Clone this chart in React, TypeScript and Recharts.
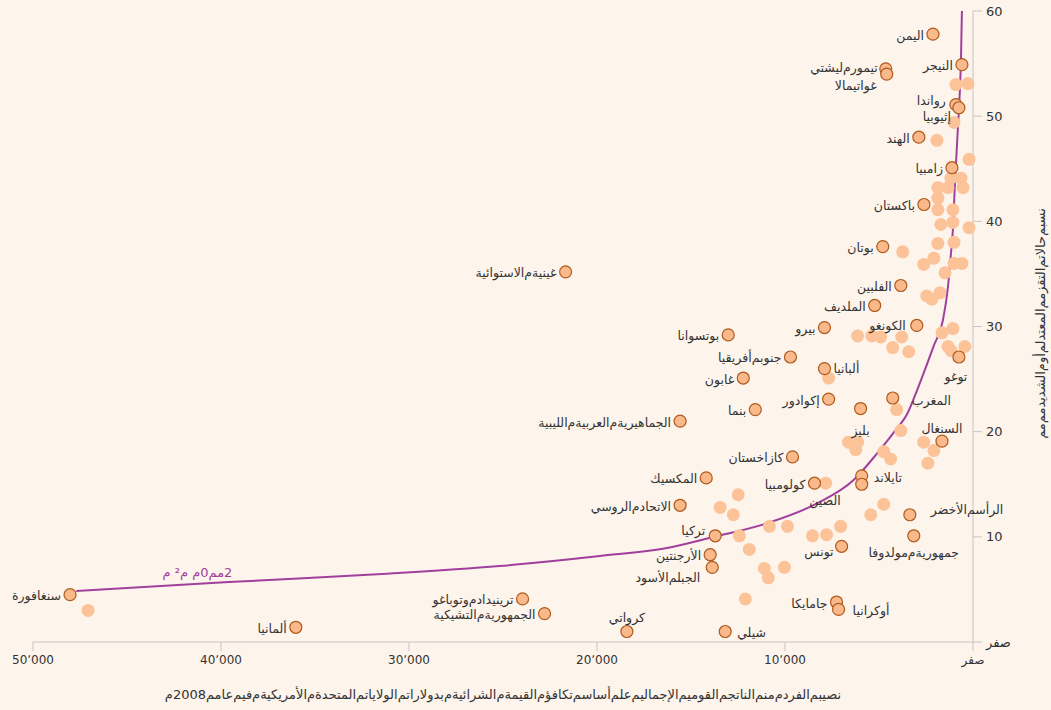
import { ScatterChart, Scatter, XAxis, YAxis, ReferenceDot } from 'recharts'

document.body.style.margin = '0'
document.body.style.background = '#fdf4ec'

// labelled countries: GNI per capita (PPP, 2008 US$) vs. stunting rate (%)
const countryNames = [
  'اليمن', 'النيجر', 'تيمور ليشتي', 'غواتيمالا', 'رواندا', 'إثيوبيا', 'الهند', 'زامبيا',
  'باكستان', 'بوتان', 'الفلبين', 'الملديف', 'بيرو', 'الكونغو', 'بوتسوانا', 'جنوب أفريقيا',
  'ألبانيا', 'توغو', 'غابون', 'إكوادور', 'بنما', 'بليز', 'المغرب', 'الجماهيرية العربية الليبية',
  'السنغال', 'كازاخستان', 'المكسيك', 'كولومبيا', 'تايلاند', 'الصين', 'الاتحاد الروسي',
  'الرأس الأخضر', 'تركيا', 'جمهورية مولدوفا', 'الأرجنتين', 'الجبل الأسود', 'تونس', 'جامايكا',
  'أوكرانيا', 'سنغافورة', 'ترينيداد وتوباغو', 'الجمهورية التشيكية', 'ألمانيا', 'كرواتي', 'شيلي',
  'غينية الاستوائية',
]
const countryGni = [
  2130, 590, 4640, 4590, 910, 750, 2880, 1120,
  2610, 4800, 3840, 5230, 7900, 2990, 13020, 9710,
  7900, 750, 12220, 7680, 11580, 5980, 4270, 15580,
  1650, 9600, 14190, 8430, 5920, 5920, 15580,
  3360, 13710, 3150, 13980, 13870, 6990, 7260,
  7150, 48030, 23960, 22790, 36020, 18410, 13180,
  21670,
]
const countryStunting = [
  57.8, 54.9, 54.5, 54.0, 51.1, 50.8, 48.0, 45.1,
  41.6, 37.6, 33.9, 32.0, 29.9, 30.1, 29.2, 27.1,
  26.0, 27.1, 25.1, 23.1, 22.1, 22.2, 23.2, 21.0,
  19.1, 17.6, 15.6, 15.1, 15.8, 15.0, 13.0,
  12.1, 10.1, 10.1, 8.3, 7.1, 9.1, 3.8,
  3.1, 4.5, 4.1, 2.7, 1.4, 1.0, 1.0,
  35.2,
]

// unlabelled countries
const otherGni = [
  910, 270, 1010, 1920, 210, 1170, 640, 530, 1330, 1870, 1870, 1870, 1070, 1070, 1710, 210,
  1870, 1010, 3740, 2620, 2080, 1010, 590, 1490, 2460, 2190, 1760, 6140, 5390, 4910, 3790,
  4270, 3420, 1650, 1070, 1330, 1170, 430, 7680, 4060, 3840, 6620, 6140, 6240, 4750, 4380,
  2620, 2080, 2400, 7840, 4750, 5440, 7040, 7790, 8540, 9870, 10830, 12430, 11900, 12490,
  13450, 12750, 11100, 10890, 10030, 12110, 47070,
]
const otherStunting = [
  53.0, 53.1, 49.4, 47.7, 45.9, 44.1, 44.1, 43.2, 43.2, 43.2, 42.2, 41.1, 41.1, 39.9, 39.7, 39.4,
  37.9, 38.0, 37.1, 35.9, 36.5, 36.0, 36.0, 35.1, 32.9, 32.6, 33.2, 29.1, 29.1, 29.0, 29.0,
  28.0, 27.6, 29.4, 29.8, 28.1, 27.7, 28.1, 25.1, 22.1, 20.1, 19.0, 19.0, 18.3, 18.1, 17.4,
  19.0, 18.2, 17.0, 15.1, 13.1, 12.1, 11.0, 10.2, 10.1, 11.0, 11.0, 10.1, 8.8, 14.0,
  12.8, 12.1, 7.0, 6.1, 7.1, 4.1, 3.0,
]

// fitted trend line
const trendGni = [
  47700, 39600, 31430, 25190, 19850, 16280, 13820, 10940, 8270, 6350, 5070, 4220,
  3470, 2940, 2080, 1600, 1330, 1170, 1070, 960, 800, 690, 640, 590,
]
const trendStunting = [
  4.85, 5.7, 6.46, 7.22, 8.17, 8.94, 9.98, 11.3, 13.2, 15.4, 18.0, 19.9,
  21.8, 24.1, 28.2, 30.6, 33.8, 37.0, 39.2, 43.6, 49.0, 52.8, 55.3, 60,
]

const xTicks = [0, 10000, 20000, 30000, 40000, 50000]
const xTickLabels = ['صفر', '10٬000', '20٬000', '30٬000', '40٬000', '50٬000']
const yTicks = [0, 10, 20, 30, 40, 50, 60]
const yTickLabels = ['صفر', '10', '20', '30', '40', '50', '60']

const xTitle = 'نصيبم الفردم منم الناتجم القوميم الإجماليم علم أساسم تكافؤم القيمةم الشرائيةم بدولاراتم الولاياتم المتحدةم الأمريكيةم فيم عامم 2008م'
const yTitle = 'نسبم حالاتم التقزمم المعتدلم أوم الشديدمم مم'
const trendNote = 'م ²م م0مم2'

const FONT = '"DejaVu Sans", sans-serif'
const TEXT = '#333333'
const AXIS = '#c9c4c0'
const DOT = '#f9b98b'
const DOT_EDGE = '#b05a1c'
const DOT_LIGHT = '#fcc398'
const TREND = '#a0409c'

// the source shows each space as a stray mim glyph, with no gap after it
const garble = (s: string) => s.split(' ').join('م\u200c')
const tight = (s: string) => s.split(' ').join('\u200c')

// label placement: [dx, dy, anchor], default is left of the dot
const LABEL_POS: Record<string, [number, number, 'start' | 'middle' | 'end']> = {
  'توغو': [-3, 20, 'middle'],
  'المغرب': [19, 2, 'start'],
  'السنغال': [0, -13, 'middle'],
  'بليز': [0, 22, 'middle'],
  'تايلاند': [12, 2, 'start'],
  'الصين': [-21, 16, 'end'],
  'الرأس الأخضر': [21, -5, 'start'],
  'جمهورية مولدوفا': [0, 17, 'middle'],
  'تونس': [-8, 5, 'end'],
  'أوكرانيا': [14, 1, 'start'],
  'شيلي': [12, 1, 'start'],
  'كرواتي': [0, -14, 'middle'],
  'ألبانيا': [9, 0, 'start'],
  'غواتيمالا': [-10, 11, 'end'],
  'تيمور ليشتي': [-8, -1, 'end'],
  'رواندا': [-10, -4, 'end'],
  'إثيوبيا': [-8, 9, 'end'],
  'الجبل الأسود': [-12, 10, 'end'],
  'تركيا': [-10, -5, 'end'],
  'الكونغو': [-11, 0, 'end'],
}

const countries = countryNames.map((name, i) => ({ name, x: countryGni[i], y: countryStunting[i] }))
const others = otherGni.map((x, i) => ({ x, y: otherStunting[i] }))
const trend = trendGni.map((x, i) => ({ x, y: trendStunting[i] }))

function CountryDot(props: any) {
  const { cx, cy, payload } = props
  const [dx, dy, anchor] = LABEL_POS[payload.name] ?? [-9, 1, 'end']
  return (
    <g>
      <circle cx={cx} cy={cy} r={6} fill={DOT} stroke={DOT_EDGE} strokeWidth={1.2} />
      <text
        x={cx + dx}
        y={cy + dy}
        textAnchor={anchor}
        dominantBaseline="central"
        fontSize={12.5}
        fontFamily={FONT}
        fill={TEXT}
      >
        {garble(payload.name)}
      </text>
    </g>
  )
}

function OtherDot(props: any) {
  return <circle cx={props.cx} cy={props.cy} r={6.5} fill={DOT_LIGHT} />
}

function TrendNote(props: any) {
  return (
    <text
      x={props.cx}
      y={props.cy}
      textAnchor="middle"
      dominantBaseline="central"
      fontSize={13}
      fontFamily={FONT}
      fill={TREND}
      direction="ltr"
      unicodeBidi="bidi-override"
    >
      {trendNote}
    </text>
  )
}

export default function App() {
  return (
    <div style={{ width: 1051, height: 710, background: '#fdf4ec' }}>
      <ScatterChart width={1051} height={710} margin={{ top: 11, right: 3, bottom: 18, left: 33 }}>
        <XAxis
          type="number"
          dataKey="x"
          domain={[0, 50000]}
          reversed
          ticks={xTicks}
          interval={0}
          tickFormatter={(v: number) => xTickLabels[xTicks.indexOf(v)]}
          tickSize={9}
          tickMargin={4}
          height={50}
          axisLine={{ stroke: AXIS }}
          tickLine={{ stroke: AXIS }}
          tick={{ fill: TEXT, fontSize: 12, fontFamily: FONT }}
          label={({ viewBox }: any) => (
            <text
              x={viewBox.x + viewBox.width / 2}
              y={viewBox.y + 52}
              textAnchor="middle"
              dominantBaseline="central"
              fontSize={13}
              fontFamily={FONT}
              fill={TEXT}
            >
              {tight(xTitle)}
            </text>
          )}
        />
        <YAxis
          type="number"
          dataKey="y"
          orientation="right"
          domain={[0, 60]}
          ticks={yTicks}
          interval={0}
          tickFormatter={(v: number) => yTickLabels[yTicks.indexOf(v)]}
          tickSize={9}
          tickMargin={4}
          width={75}
          axisLine={{ stroke: AXIS }}
          tickLine={{ stroke: AXIS }}
          tick={{ fill: TEXT, fontSize: 13, fontFamily: FONT }}
          label={({ viewBox }: any) => {
            const x = viewBox.x + 67
            const y = viewBox.y + viewBox.height / 2 - 3
            return (
              <text
                x={x}
                y={y}
                transform={`rotate(-90 ${x} ${y})`}
                textAnchor="middle"
                dominantBaseline="central"
                fontSize={13}
                fontFamily={FONT}
                fill={TEXT}
              >
                {tight(yTitle)}
              </text>
            )
          }}
        />
        <Scatter
          data={trend}
          line={{ stroke: TREND, strokeWidth: 2 }}
          lineJointType="monotoneX"
          shape={() => <g />}
          isAnimationActive={false}
        />
        <Scatter data={others} shape={OtherDot} isAnimationActive={false} />
        <Scatter data={countries} shape={CountryDot} isAnimationActive={false} />
        <ReferenceDot x={41250} y={6.65} r={0} shape={TrendNote} />
      </ScatterChart>
    </div>
  )
}
